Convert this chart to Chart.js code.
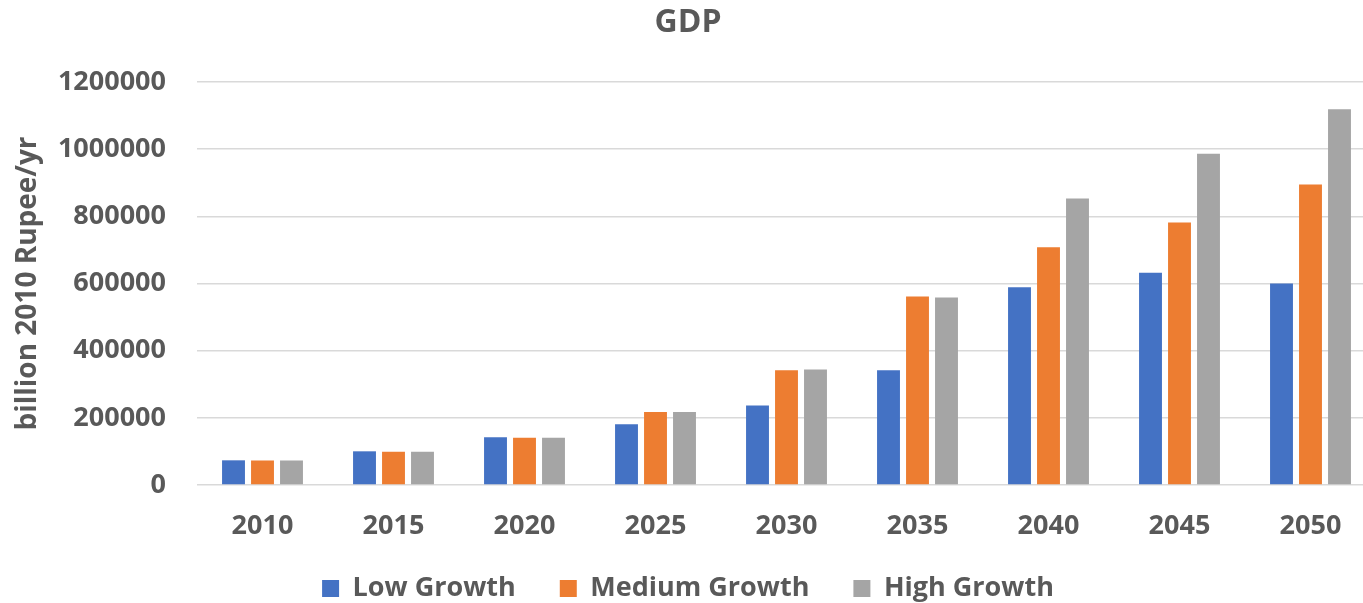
<!DOCTYPE html>
<html>
<head>
<meta charset="utf-8">
<title>GDP</title>
<script src="https://cdn.jsdelivr.net/npm/chart.js@4.4.1/dist/chart.umd.min.js"></script>
<style>
  html, body { margin: 0; padding: 0; background: #fff; overflow: hidden; }
  #wrap { width: 1376px; height: 612px; }
</style>
</head>
<body>
<div id="wrap"><canvas id="gdpChart" width="1376" height="612"></canvas></div>
<script>
const years = ["2010", "2015", "2020", "2025", "2030", "2035", "2040", "2045", "2050"];
const lowGrowth = [73500, 100300, 142000, 180600, 237000, 342000, 589000, 632000, 600000];
const mediumGrowth = [73000, 99000, 140500, 217000, 342000, 561500, 708000, 782000, 895000];
const highGrowth = [73000, 99000, 140500, 217000, 344000, 558600, 853000, 986000, 1119000];
const yTicks = [0, 200000, 400000, 600000, 800000, 1000000, 1200000];

const textColor = "#595959";
const fontFamily = "'Open Sans', 'DejaVu Sans', sans-serif";

function series(label, data, color) {
    return {
        label,
        data,
        backgroundColor: color,
        borderColor: color,
        borderWidth: 0,
        barPercentage: 0.79,
        categoryPercentage: 0.664,
    };
}

const ctx = document.getElementById("gdpChart").getContext("2d");

new Chart(ctx, {
    type: "bar",
    data: {
        labels: years,
        datasets: [
            series("Low Growth", lowGrowth, "#4472C4"),
            series("Medium Growth", mediumGrowth, "#ED7D31"),
            series("High Growth", highGrowth, "#A5A5A5"),
        ],
    },
    options: {
        responsive: false,
        animation: false,
        layout: { padding: { left: 0, right: 0, top: 0, bottom: 0 } },
        plugins: {
            title: {
                display: true,
                text: "GDP",
                color: textColor,
                font: { family: fontFamily, size: 32, weight: "bold" },
                padding: { top: 4, bottom: 39.6 },
            },
            legend: {
                position: "bottom",
                labels: {
                    color: textColor,
                    font: { family: fontFamily, size: 27, weight: "bold" },
                    boxWidth: 17,
                    boxHeight: 17,
                    padding: 44,
                },
            },
            tooltip: { enabled: false },
        },
        scales: {
            x: {
                grid: { display: false, drawTicks: false },
                border: { display: false },
                ticks: {
                    color: textColor,
                    font: { family: fontFamily, size: 27, weight: "bold" },
                    padding: 25,
                },
                afterFit(scale) {
                    // squeeze the axis box so the legend sits close; labels may spill below it
                    scale.height = 46;
                    scale._computeLabelArea = () => undefined;
                },
            },
            y: {
                min: 0,
                max: yTicks[yTicks.length - 1],
                afterBuildTicks(scale) {
                    scale.ticks = yTicks.map(v => ({ value: v }));
                },
                grid: {
                    color: "#D9D9D9",
                    lineWidth: 1.5,
                    drawTicks: false,
                },
                border: { display: false },
                ticks: {
                    color: textColor,
                    font: { family: fontFamily, size: 27, weight: "bold" },
                    padding: 31,
                    callback: v => String(v),
                },
                title: {
                    display: true,
                    text: "billion 2010 Rupee/yr",
                    color: textColor,
                    font: { family: fontFamily, size: 28, weight: "bold" },
                    padding: { top: 11, bottom: 0 },
                },
                afterFit(scale) {
                    scale.width = 197;
                },
            },
        },
    },
});
</script>
</body>
</html>
